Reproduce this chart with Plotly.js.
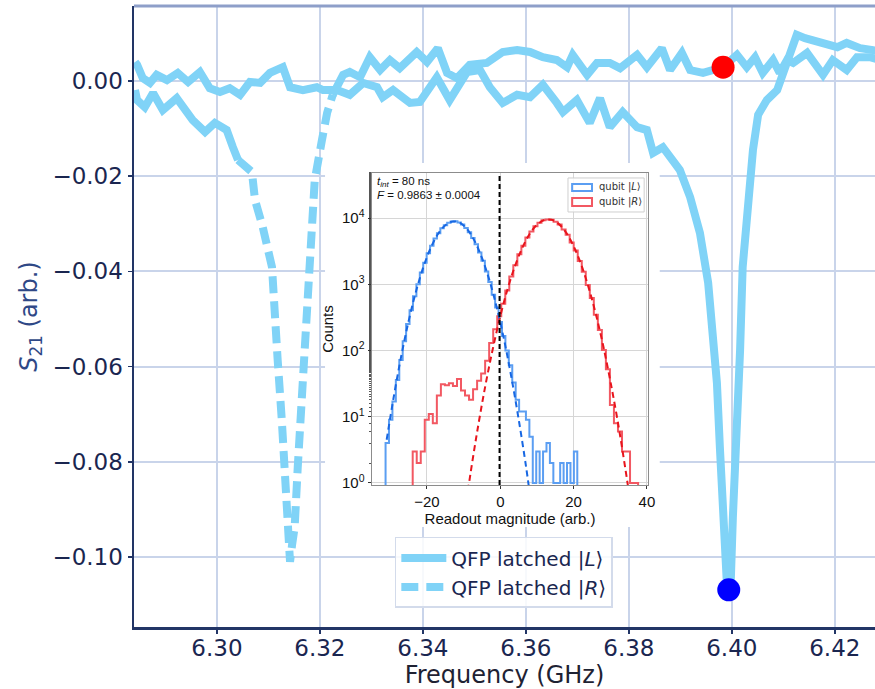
<!DOCTYPE html>
<html><head><meta charset="utf-8">
<script src="https://cdn.plot.ly/plotly-3.0.1.min.js"></script>
<style>html,body{margin:0;padding:0;background:#fff}#chart{width:875px;height:689px}</style>
</head><body><div id="chart"></div>
<script>
// ---------- main plot: S21 vs frequency ----------
const L_freq = [6.2841,6.2845,6.2856,6.2870,6.2883,6.2903,6.2924,6.2944,6.2967,6.2986,6.3006,6.3025,6.3045,6.3064,6.3084,6.3103,6.3128,6.3142,6.3167,6.3194,6.3206,6.3233,6.3258,6.3284,6.3311,6.3322,6.3342,6.3375,6.3394,6.3427,6.3452,6.3486,6.3511,6.3530,6.3555,6.3583,6.3608,6.3633,6.3660,6.3672,6.3699,6.3724,6.3744,6.3763,6.3788,6.3816,6.3835,6.3847,6.3866,6.3886,6.3899,6.3919,6.3938,6.3954,6.3963,6.3971,6.3977,6.3983,6.3990,6.3994,6.3998,6.4002,6.4010,6.4016,6.4021,6.4031,6.4041,6.4051,6.4068,6.4088,6.4097,6.4109,6.4126,6.4142,6.4157,6.4185,6.4205,6.4223,6.4249,6.4274,6.4288];
const L_s21  = [0.0040,0.0034,0.0006,-0.0004,0.0013,0.0002,0.0017,-0.0002,0.0019,-0.0015,-0.0023,-0.0015,-0.0029,-0.0002,-0.0004,0.0017,0.0029,-0.0013,-0.0019,-0.0013,-0.0019,-0.0019,-0.0029,-0.0004,-0.0013,-0.0034,-0.0019,-0.0046,-0.0044,0.0008,-0.0040,0.0019,0.0023,-0.0013,-0.0046,-0.0029,-0.0034,-0.0008,-0.0046,-0.0065,-0.0040,-0.0088,-0.0036,-0.0097,-0.0065,-0.0097,-0.0103,-0.0151,-0.0139,-0.0172,-0.0187,-0.0244,-0.0319,-0.0424,-0.0529,-0.0634,-0.0775,-0.0916,-0.1048,-0.1069,-0.1048,-0.0916,-0.0739,-0.0565,-0.0391,-0.0250,-0.0145,-0.0071,-0.0040,-0.0019,0.0008,0.0044,0.0097,0.0090,0.0086,0.0076,0.0071,0.0080,0.0069,0.0065,0.0061];

const R_freq = [6.2841,6.2845,6.2860,6.2876,6.2895,6.2922,6.2953,6.2977,6.2996,6.3019,6.3031,6.3041,6.3060,6.3068,6.3074,6.3089,6.3107,6.3113,6.3118,6.3126,6.3132,6.3138,6.3142,6.3146,6.3151,6.3157,6.3165,6.3171,6.3177,6.3184,6.3190,6.3204,6.3214,6.3225,6.3245,6.3258,6.3278,6.3297,6.3317,6.3336,6.3355,6.3388,6.3408,6.3429,6.3447,6.3466,6.3491,6.3524,6.3555,6.3583,6.3608,6.3633,6.3660,6.3680,6.3691,6.3719,6.3738,6.3763,6.3783,6.3816,6.3835,6.3864,6.3880,6.3903,6.3919,6.3944,6.3983,6.4010,6.4029,6.4045,6.4060,6.4080,6.4093,6.4107,6.4119,6.4146,6.4165,6.4177,6.4196,6.4223,6.4243,6.4268,6.4288];
const R_s21  = [-0.0019,-0.0040,-0.0055,-0.0025,-0.0061,-0.0036,-0.0082,-0.0107,-0.0088,-0.0103,-0.0139,-0.0166,-0.0181,-0.0191,-0.0250,-0.0307,-0.0391,-0.0475,-0.0586,-0.0712,-0.0844,-0.0943,-0.1010,-0.0974,-0.0937,-0.0811,-0.0655,-0.0529,-0.0403,-0.0307,-0.0208,-0.0124,-0.0067,-0.0029,0.0013,0.0019,0.0008,0.0050,0.0023,0.0044,0.0027,0.0061,0.0040,0.0069,0.0017,0.0006,0.0034,0.0038,0.0061,0.0065,0.0061,0.0050,0.0044,0.0029,0.0055,0.0013,0.0038,0.0038,0.0027,0.0055,0.0029,0.0069,0.0023,0.0059,0.0023,0.0017,0.0029,0.0055,0.0029,0.0050,0.0017,0.0044,0.0017,0.0044,0.0038,0.0059,0.0029,0.0013,0.0044,0.0023,0.0050,0.0050,0.0044];
// frequency span (GHz) in which the |R> dip shows up as a dashed line
const R_dash_span = [6.3041, 6.3225];

// operating points
const op_freq = [6.3983, 6.3994];
const op_s21  = [0.0029, -0.1069];

// ---------- inset: readout histograms ----------
const blue_edges  = [-31.30,-30.37,-29.43,-28.50,-27.56,-26.63,-25.70,-24.76,-23.83,-22.89,-21.96,-21.03,-20.09,-19.16,-18.22,-17.29,-16.36,-15.42,-14.49,-13.55,-12.62,-11.69,-10.75,-9.82,-8.88,-7.95,-7.02,-6.08,-5.15,-4.21,-3.28,-2.35,-1.41,-0.48,0.46,1.39,2.32,3.26,4.19,5.13,6.06,6.99,7.93,8.86,9.80,10.73,11.66,12.60,13.53,14.47,15.40,16.33,17.27,18.20,19.14,20.07,21.00];
const blue_counts = [4,9,17,36,72,138,251,404,662,1003,1511,2112,2934,3819,4890,5902,6987,7791,8520,8832,8905,8541,7980,7055,6112,4987,4021,3010,2262,1560,1081,695,447,270,165,100,60,33,18,12,12,9,5,1,3,1,3,4,2,1,1,2,1,2,1,3];
const red_edges   = [-23.90,-22.80,-21.70,-20.61,-19.51,-18.41,-17.31,-16.21,-15.12,-14.02,-12.92,-11.82,-10.72,-9.63,-8.53,-7.43,-6.33,-5.23,-4.14,-3.04,-1.94,-0.84,0.26,1.35,2.45,3.55,4.65,5.75,6.84,7.94,9.04,10.14,11.24,12.33,13.43,14.53,15.63,16.73,17.82,18.92,20.02,21.12,22.22,23.31,24.41,25.51,26.61,27.71,28.80,29.90,31.00,32.10,33.20,34.29,35.39,36.49,37.59];
const red_counts  = [3,2,3,9,11,8,21,31,30,32,29,37,25,21,18,26,35,45,70,130,210,330,510,805,1310,1932,2840,3821,5070,6262,7534,8498,9260,9521,9433,8820,7961,6740,5570,4276,3225,2241,1545,972,618,347,204,102,52,15,8,6,3,3,1,1];

const blue_fit_x = [-31,-29,-27,-25,-23,-21,-19,-17,-15,-13,-11,-9,-7,-5,-3,-1,1,3,5,7,8];
const blue_fit_y = [4.5,21,84,280,778,1811,3524,5728,7798,8872,8453,6730,4477,2495,1164,454,148,40,9.2,1.8,0.72];
const red_fit_x  = [-10,-8,-6,-4,-2,0,2,4,6,8,10,12,14,16,18,20,22,24,26,28,30,32,34,36];
const red_fit_y  = [0.27,1.55,7.5,31,109,330,853,1884,3556,5741,7907,9333,9397,8091,5970,3758,2023,929,366,123,35,8.7,1.8,0.33];

const threshold = -0.2;
const inset_xticks = [-20, 0, 20, 40];
const inset_yticks = [1, 10, 100, 1000, 10000];
const inset_yticktext = ['10<sup>0</sup>','10<sup>1</sup>','10<sup>2</sup>','10<sup>3</sup>','10<sup>4</sup>'];

// ---------- build traces ----------
const CURVE = '#80d3f7';
function pick(fx, fy, keep) {
  const x = [], y = [];
  fx.forEach((f, i) => { if (keep(f)) { x.push(f); y.push(fy[i]); } });
  return {x, y};
}
function stepPath(edges, counts) {
  const FLOOR = 0.1; // below the log axis range -> drawn off-axis like matplotlib
  const x = [edges[0]], y = [FLOOR];
  counts.forEach((c, i) => { x.push(edges[i]); y.push(c); });
  x.push(edges[edges.length - 1]); y.push(counts[counts.length - 1]);
  x.push(edges[edges.length - 1]); y.push(FLOOR);
  return {x, y};
}

const rBefore = pick(R_freq, R_s21, f => f <= R_dash_span[0]);
const rDip    = pick(R_freq, R_s21, f => f >= R_dash_span[0] && f <= R_dash_span[1]);
const rAfter  = pick(R_freq, R_s21, f => f >= R_dash_span[1]);
const bHist = stepPath(blue_edges, blue_counts);
const rHist = stepPath(red_edges, red_counts);

const BLUE_H = '#5b9ef2', BLUE_F = '#1767e3', RED_H = '#f25862', RED_F = '#e8141c';

const traces = [
  {x: L_freq, y: L_s21, type: 'scatter', mode: 'lines', name: 'QFP latched |<i>L</i>⟩',
   line: {color: CURVE, width: 8}},
  {x: rBefore.x, y: rBefore.y, type: 'scatter', mode: 'lines', showlegend: false,
   line: {color: CURVE, width: 8}},
  {x: rDip.x, y: rDip.y, type: 'scatter', mode: 'lines', name: 'QFP latched |<i>R</i>⟩',
   line: {color: CURVE, width: 8, dash: '17px,8px'}},
  {x: rAfter.x, y: rAfter.y, type: 'scatter', mode: 'lines', showlegend: false,
   line: {color: CURVE, width: 8}},
  {x: op_freq, y: op_s21, type: 'scatter', mode: 'markers', showlegend: false,
   marker: {size: 23, color: ['#ff0000', '#0000ff'], line: {width: 0}}},

  {x: bHist.x, y: bHist.y, xaxis: 'x2', yaxis: 'y2', type: 'scatter', mode: 'lines', showlegend: false,
   line: {color: BLUE_H, width: 2, shape: 'hv'}},
  {x: rHist.x, y: rHist.y, xaxis: 'x2', yaxis: 'y2', type: 'scatter', mode: 'lines', showlegend: false,
   line: {color: RED_H, width: 2, shape: 'hv'}},
  {x: blue_fit_x, y: blue_fit_y, xaxis: 'x2', yaxis: 'y2', type: 'scatter', mode: 'lines', showlegend: false,
   line: {color: BLUE_F, width: 2, dash: '6px,4px', shape: 'spline', smoothing: 1}},
  {x: red_fit_x, y: red_fit_y, xaxis: 'x2', yaxis: 'y2', type: 'scatter', mode: 'lines', showlegend: false,
   line: {color: RED_F, width: 2, dash: '6px,4px', shape: 'spline', smoothing: 1}}
];

const NAVY = '#1a2650', AXIS = '#223566', GRID = '#c9d4ea';
const INSET_FONT = 'Liberation Sans, Arial, sans-serif';

const layout = {
  width: 875, height: 689,
  margin: {l: 134, r: 0, t: 6, b: 62},
  paper_bgcolor: '#ffffff', plot_bgcolor: '#ffffff',
  font: {family: 'DejaVu Sans, sans-serif', color: NAVY},
  showlegend: true,
  xaxis: {
    range: [6.2839, 6.4278], tick0: 6.30, dtick: 0.02, tickformat: '.2f',
    showgrid: true, gridcolor: GRID, gridwidth: 2, zeroline: false,
    showline: true, linecolor: AXIS, linewidth: 2.5,
    ticks: 'outside', ticklen: 4, tickwidth: 1.5, tickcolor: AXIS,
    ticklabelstandoff: -5,
    tickfont: {size: 23, color: NAVY},
    title: {text: 'Frequency (GHz)', font: {size: 24, color: '#1e2233'}, standoff: 6},
    automargin: false
  },
  yaxis: {
    range: [-0.1147, 0.01576], tick0: 0, dtick: 0.02, tickformat: '.2f',
    showgrid: true, gridcolor: GRID, gridwidth: 2, zeroline: false,
    showline: true, linecolor: AXIS, linewidth: 2.5,
    ticks: 'outside', ticklen: 4, tickwidth: 1.5, tickcolor: AXIS,
    tickfont: {size: 23, color: NAVY},
    title: {text: '<i>S</i><sub>21</sub> (arb.)', font: {size: 24, color: '#2f4886'}, standoff: 8},
    automargin: false
  },
  xaxis2: {
    domain: [0.3212, 0.6937], anchor: 'y2', range: [-35, 40.3],
    tickmode: 'array', tickvals: inset_xticks,
    showgrid: true, gridcolor: '#d6d6d6', gridwidth: 1, zeroline: false,
    showline: true, mirror: true, linecolor: '#8c8c8c', linewidth: 1,
    ticks: 'outside', ticklen: 3.5, tickwidth: 1, tickcolor: '#333',
    tickfont: {family: INSET_FONT, size: 15, color: '#111'},
    title: {text: 'Readout magnitude (arb.)', font: {family: INSET_FONT, size: 15, color: '#111'}, standoff: 0},
    automargin: false
  },
  yaxis2: {
    domain: [0.2287, 0.7311], anchor: 'x2', type: 'log', range: [-0.03, 4.68],
    tickmode: 'array', tickvals: inset_yticks, ticktext: inset_yticktext,
    showgrid: true, gridcolor: '#d6d6d6', gridwidth: 1, zeroline: false,
    showline: true, mirror: true, linecolor: '#8c8c8c', linewidth: 1,
    ticks: 'outside', ticklen: 3.5, tickwidth: 1, tickcolor: '#333',
    minor: {ticks: 'outside', ticklen: 2, tickcolor: '#555', showgrid: false},
    tickfont: {family: INSET_FONT, size: 15, color: '#111'},
    title: {text: 'Counts', font: {family: INSET_FONT, size: 15, color: '#111'}, standoff: 4},
    automargin: false
  },
  legend: {
    x: 0.352, y: 0.145, xanchor: 'left', yanchor: 'top',
    bgcolor: 'rgba(255,255,255,0.85)', bordercolor: '#d3dbeb', borderwidth: 1.5,
    font: {size: 20, color: NAVY}, itemwidth: 45, tracegroupgap: 0
  },
  shapes: [
    // white backdrop of the inset figure (hides main gridlines)
    {type: 'rect', xref: 'x', yref: 'y', x0: 6.3210, x1: 6.3860, y0: -0.0937, y1: -0.0172,
     fillcolor: '#ffffff', line: {width: 0}, layer: 'between'},
    // top frame line
    {type: 'line', xref: 'paper', yref: 'paper', x0: 0, x1: 1, y0: 1, y1: 1,
     line: {color: '#8e9fc9', width: 3}, layer: 'above'},
    // decision threshold
    {type: 'line', xref: 'x2', yref: 'y2 domain', x0: threshold, x1: threshold, y0: 0, y1: 1,
     line: {color: '#000', width: 2, dash: '5px,3px'}, layer: 'above'},
    // inset legend frame and patches
    {type: 'rect', xref: 'x2 domain', yref: 'y2 domain', x0: 0.710, x1: 0.986, y0: 0.875, y1: 0.984,
     fillcolor: 'rgba(255,255,255,0.85)', line: {color: '#cfcfcf', width: 1}, layer: 'above'},
    {type: 'rect', xref: 'x2 domain', yref: 'y2 domain', x0: 0.725, x1: 0.797, y0: 0.942, y1: 0.965,
     fillcolor: 'rgba(0,0,0,0)', line: {color: BLUE_H, width: 2}, layer: 'above'},
    {type: 'rect', xref: 'x2 domain', yref: 'y2 domain', x0: 0.725, x1: 0.797, y0: 0.894, y1: 0.920,
     fillcolor: 'rgba(0,0,0,0)', line: {color: RED_H, width: 2}, layer: 'above'}
  ],
  annotations: [
    {xref: 'x2 domain', yref: 'y2 domain', x: 0.012, y: 0.972, xanchor: 'left', yanchor: 'middle', showarrow: false,
     text: '<i>t<sub>int</sub></i> = 80 ns', font: {family: INSET_FONT, size: 11.5, color: '#111'}},
    {xref: 'x2 domain', yref: 'y2 domain', x: 0.012, y: 0.930, xanchor: 'left', yanchor: 'middle', showarrow: false,
     text: '<i>F</i> = 0.9863 ± 0.0004', font: {family: INSET_FONT, size: 11.5, color: '#111'}},
    {xref: 'x2 domain', yref: 'y2 domain', x: 0.815, y: 0.954, xanchor: 'left', yanchor: 'middle', showarrow: false,
     text: 'qubit |<i>L</i>⟩', font: {family: 'DejaVu Sans, sans-serif', size: 10, color: '#333'}},
    {xref: 'x2 domain', yref: 'y2 domain', x: 0.815, y: 0.907, xanchor: 'left', yanchor: 'middle', showarrow: false,
     text: 'qubit |<i>R</i>⟩', font: {family: 'DejaVu Sans, sans-serif', size: 10, color: '#333'}}
  ]
};

Plotly.newPlot('chart', traces, layout, {staticPlot: true, displayModeBar: false});
</script>
</body></html>
